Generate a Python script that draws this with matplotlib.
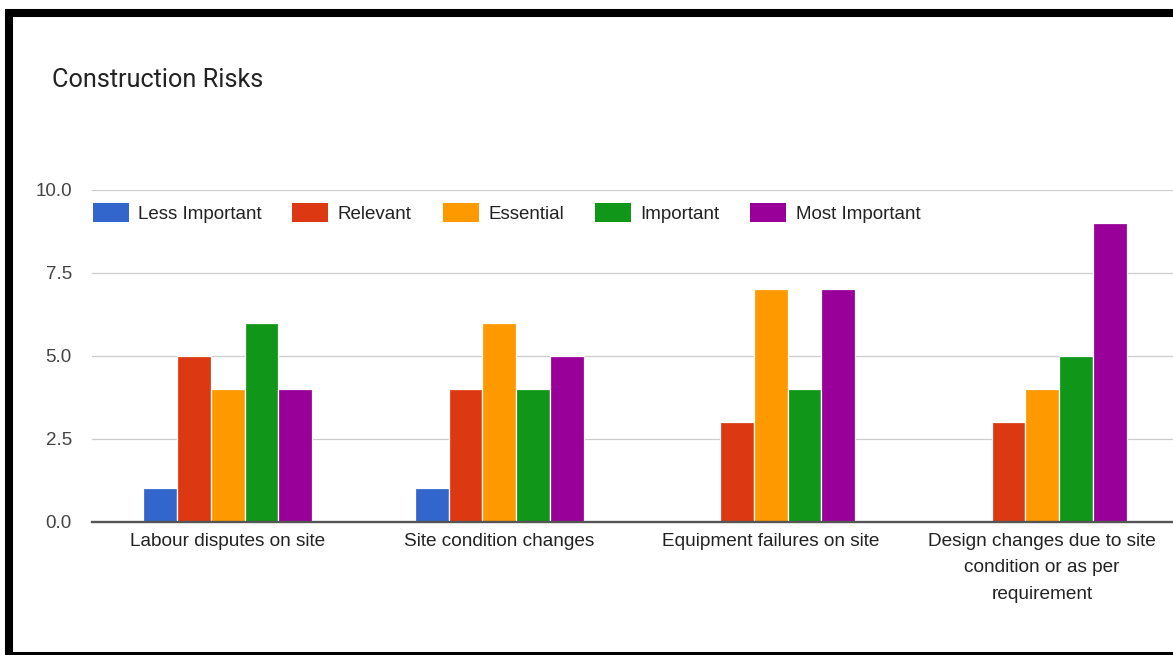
import numpy as np
import matplotlib.pyplot as plt
from matplotlib.patches import Patch, Rectangle

risks = ["Labour disputes on site",
         "Site condition changes",
         "Equipment failures on site",
         "Design changes due to site\ncondition or as per\nrequirement"]
levels = ["Less Important", "Relevant", "Essential", "Important", "Most Important"]
less_important = [1, 1, 0, 0]
relevant = [5, 4, 3, 3]
essential = [4, 6, 7, 4]
important = [6, 4, 4, 5]
most_important = [4, 5, 7, 9]
yticks = [0.0, 2.5, 5.0, 7.5, 10.0]

colors = ["#3366cc", "#dc3912", "#ff9900", "#109618", "#990099"]
series = [less_important, relevant, essential, important, most_important]

W, H = 1173, 655
fig = plt.figure(figsize=(W / 100, H / 100), dpi=100)
# plot area runs a little past the right edge of the figure
ax = fig.add_axes([92 / W, (H - 521.5) / H, 1086 / W, 331.5 / H])

x = np.arange(len(risks))
step = 0.1245
for i, (vals, c) in enumerate(zip(series, colors)):
    ax.bar(x + (i - 2) * step, vals, width=step, color=c,
           edgecolor="white", linewidth=0.9, zorder=3)

ax.set_xlim(-0.5, len(risks) - 0.5)
ax.set_ylim(0, 10)
ax.set_yticks(yticks)
ax.set_yticklabels([f"{v:.1f}" for v in yticks])
ax.set_xticks(x)
ax.set_xticklabels(risks, linespacing=1.75)
ax.tick_params(axis="y", length=0, pad=14.5, labelsize=13.5, labelcolor="#444444")
ax.tick_params(axis="x", length=0, pad=8, labelsize=13.7, labelcolor="#222222")
for lab in ax.get_xticklabels() + ax.get_yticklabels():
    lab.set_family("Liberation Sans")

ax.grid(axis="y", color="#cccccc", linewidth=0.9, zorder=0)
for s in ["top", "right", "left"]:
    ax.spines[s].set_visible(False)
ax.spines["bottom"].set_color("#555555")
ax.spines["bottom"].set_linewidth(1.7)
ax.spines["bottom"].set_zorder(4)

handles = [Patch(facecolor=c, edgecolor="none") for c in colors]
fig.legend(handles, levels, loc="center left", bbox_to_anchor=(92.5 / W, 1 - 213 / H),
           ncol=5, frameon=False, borderpad=0, borderaxespad=0,
           handlelength=1.92, handleheight=1.2, handletextpad=0.5,
           columnspacing=1.65, prop={"family": "Liberation Sans", "size": 13.5},
           labelcolor="#222222")

fig.text(52 / W, 1 - 87 / H, "Construction Risks", family="Roboto", fontsize=18.2,
         color="#222222", va="baseline", ha="left")

# black border around the chart (open on the right)
fig.patches.append(Rectangle((9 / W, (H - 656) / H), 1300 / W, 643 / H,
                             transform=fig.transFigure, fill=False,
                             edgecolor="black", linewidth=5.8))

fig.savefig("out.png", dpi=100)
